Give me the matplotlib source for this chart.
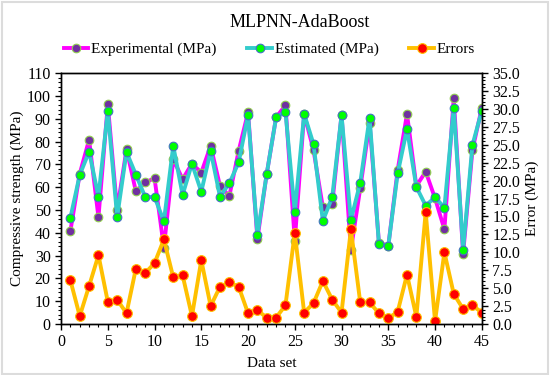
import numpy as np
import matplotlib
matplotlib.use("Agg")
import matplotlib.pyplot as plt
from matplotlib.ticker import MultipleLocator
from matplotlib.patches import Rectangle

plt.rcParams['font.family'] = ['Liberation Serif', 'DejaVu Serif']
plt.rcParams['mathtext.fontset'] = 'stix'

data_set = np.arange(1, 46)

experimental = [40.8, 65.9, 80.8, 46.8, 96.3, 50.0, 76.6, 58.2, 62.1, 63.9,
                33.5, 72.2, 63.5, 70.3, 66.4, 78.1, 60.5, 56.1, 76.0, 92.8,
                37.3, 65.9, 90.6, 95.9, 36.5, 92.1, 76.3, 51.2, 52.5, 91.7,
                32.5, 59.5, 88.0, 35.7, 34.3, 67.5, 92.1, 60.5, 66.8, 55.1,
                41.5, 99.0, 30.7, 76.3, 94.8]

estimated = [46.6, 65.4, 75.6, 55.8, 93.4, 46.9, 75.4, 65.5, 55.7, 55.7,
             45.0, 78.1, 56.6, 70.3, 58.0, 75.9, 55.8, 61.7, 70.9, 91.7,
             39.0, 65.9, 90.6, 93.1, 49.0, 92.1, 78.9, 45.2, 55.6, 91.5,
             45.6, 62.0, 90.5, 34.9, 34.3, 66.0, 85.5, 60.1, 51.9, 55.6,
             51.0, 94.9, 32.5, 78.5, 93.5]

errors = [6.1, 1.1, 5.3, 9.6, 3.1, 3.4, 1.5, 7.7, 7.1, 8.5,
          11.8, 6.5, 6.8, 1.1, 8.9, 2.5, 5.2, 5.8, 5.2, 1.5,
          1.9, 0.9, 0.9, 2.6, 12.7, 1.6, 2.9, 6.0, 3.4, 1.6,
          13.2, 3.0, 3.0, 1.5, 0.8, 1.7, 6.9, 1.0, 15.6, 0.4,
          10.0, 4.2, 2.1, 2.6, 1.6]

fig = plt.figure(figsize=(5.5, 3.75), dpi=100)
fig.patches.append(Rectangle((0.004, 0.004), 0.992, 0.992, transform=fig.transFigure,
                             fill=False, edgecolor='#dcdcdc', linewidth=1.5))
ax = fig.add_axes([0.111, 0.136, 0.765, 0.669])
ax2 = ax.twinx()

l1, = ax.plot(data_set, experimental, '-o', color='#ff00ff', lw=2.8,
              marker='o', ms=6.2, mfc='#7030a0', mec='#92d050', mew=0.8,
              label='Experimental (MPa)')
l2, = ax.plot(data_set, estimated, '-o', color='#33cccc', lw=2.8,
              marker='o', ms=6.2, mfc='#00ff00', mec='#4472c4', mew=0.8,
              label='Estimated (MPa)')
l3, = ax2.plot(data_set, errors, '-o', color='#ffc000', lw=2.8,
               marker='o', ms=7, mfc='#ff0000', mec='#ffc000', mew=0.8,
               label='Errors')

ax.set_xlim(0, 45)
ax.set_ylim(0, 110)
ax2.set_ylim(0, 35)

ax.xaxis.set_major_locator(MultipleLocator(5))
ax.xaxis.set_minor_locator(MultipleLocator(1))
ax.yaxis.set_major_locator(MultipleLocator(10))
ax.yaxis.set_minor_locator(MultipleLocator(2))
ax2.yaxis.set_major_locator(MultipleLocator(2.5))
ax2.yaxis.set_minor_locator(MultipleLocator(0.5))
ax2.yaxis.set_major_formatter(plt.FormatStrFormatter('%.1f'))

for a in (ax, ax2):
    a.tick_params(which='major', direction='out', length=4, width=1, labelsize=11.5)
    a.tick_params(which='minor', direction='out', length=2, width=0.8)
    for s in a.spines.values():
        s.set_linewidth(1)

ax.set_xlabel('Data set', fontsize=11, labelpad=5)
ax.set_ylabel('Compressive strength (MPa)', fontsize=11, labelpad=2)
ax2.set_ylabel('Error (MPa)', fontsize=11, labelpad=4)

fig.text(0.545, 0.94, 'MLPNN-AdaBoost', ha='center', va='center', fontsize=13)
fig.legend(handles=[l1, l2, l3], loc='center', bbox_to_anchor=(0.49, 0.868),
           ncol=3, frameon=False, fontsize=11, handlelength=1.6,
           handletextpad=0.2, columnspacing=2.0)

fig.savefig('out.png', dpi=100)
